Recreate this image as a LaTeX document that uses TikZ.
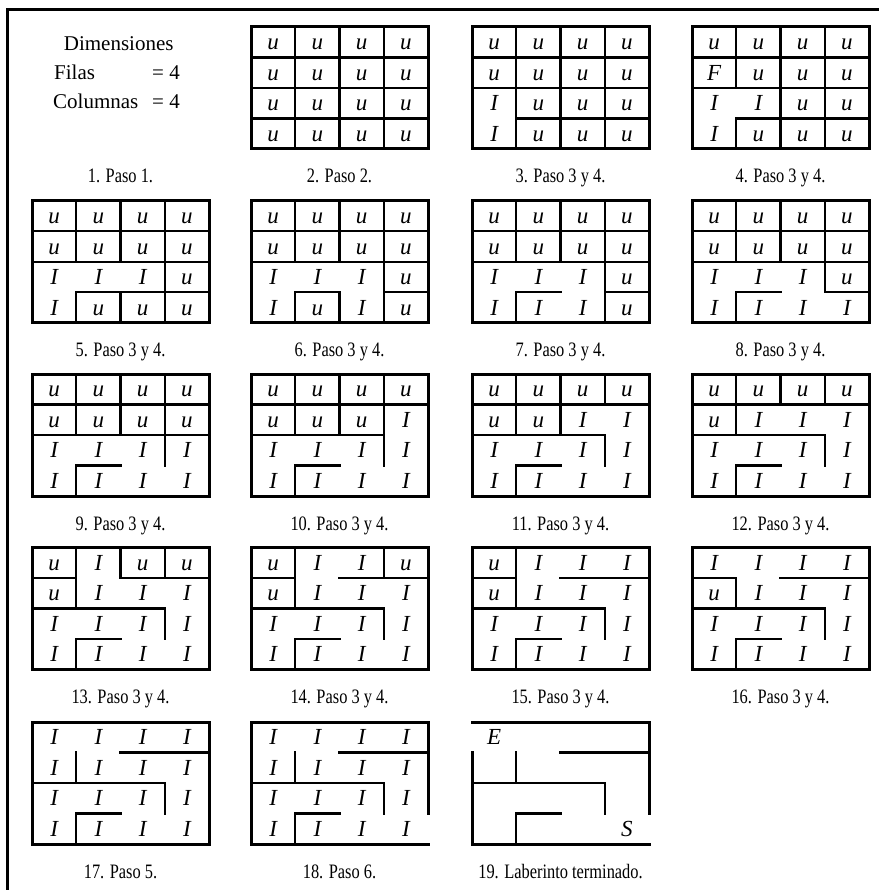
\documentclass[tikz,border=0pt]{standalone}
\usepackage{fontspec}
\setmainfont{Liberation Serif}
\newfontfamily\capfont[FakeStretch=0.8]{Liberation Serif}
\usepackage{tikz}
\tikzset{
    % Maze styles
    mazeframe/.style={
        draw=black,
        line width=3pt,
        line cap=rect
    },
    mazewall/.style={
        draw=black,
        line width=2.2pt,
        line cap=rect
    },
    mazecell/.style={
        anchor=base,
        inner sep=0pt,
        font=\fontsize{23}{27}\selectfont\itshape
    },
    % Text styles
    steplabel/.style={
        anchor=base,
        inner sep=0pt,
        font=\capfont\fontsize{20.5}{24}\selectfont
    },
    info/.style={
        inner sep=0pt,
        font=\fontsize{21}{25}\selectfont
    }
}
% one row of letters of a maze
\newcommand{\cellrow}[3]{%
    \foreach \l [count=\c from 0] in {#3}{
        \node[mazecell] (#1r#2c\c) at (\c+0.5,#2+0.75) {\l};
    }}

\begin{document}
\begin{tikzpicture}[x=1pt, y=-1pt]
    \useasboundingbox (0,0) rectangle (879,890);

    % Page border
    \draw[line width=3.5pt] (7.7,890) -- (7.7,9.5) -- (879,9.5);

    % 1. Dimensions
    \node[info, anchor=base] (dim) at (118.7,50.7) {Dimensiones};
    \node[info, anchor=base west] (filas) at (54,79.3) {Filas};
    \node[info, anchor=base east] (filasval) at (180,79.3) {= 4};
    \node[info, anchor=base west] (cols) at (53,108.3) {Columnas};
    \node[info, anchor=base east] (colsval) at (180,108.3) {= 4};

    % 2. All cells unvisited
    \begin{scope}[shift={(251,27)}, x=44.25pt, y=-30.5pt]
        \cellrow{m2}{0}{u,u,u,u}
        \cellrow{m2}{1}{u,u,u,u}
        \cellrow{m2}{2}{u,u,u,u}
        \cellrow{m2}{3}{u,u,u,u}
        \draw[mazewall] (1,0)--(1,4) (2,0)--(2,4) (3,0)--(3,4)
            (0,1)--(4,1) (0,2)--(4,2) (0,3)--(4,3);
        \draw[mazeframe] (0,0) rectangle (4,4);
    \end{scope}

    % 3.
    \begin{scope}[shift={(472,27)}, x=44.25pt, y=-30.5pt]
        \cellrow{m3}{0}{u,u,u,u}
        \cellrow{m3}{1}{u,u,u,u}
        \cellrow{m3}{2}{I,u,u,u}
        \cellrow{m3}{3}{I,u,u,u}
        \draw[mazewall] (1,0)--(1,4) (2,0)--(2,4) (3,0)--(3,4)
            (0,1)--(4,1) (0,2)--(4,2) (1,3)--(4,3);
        \draw[mazeframe] (0,0) rectangle (4,4);
    \end{scope}

    % 4.
    \begin{scope}[shift={(692,27)}, x=44.25pt, y=-30.5pt]
        \cellrow{m4}{0}{u,u,u,u}
        \cellrow{m4}{1}{F,u,u,u}
        \cellrow{m4}{2}{I,I,u,u}
        \cellrow{m4}{3}{I,u,u,u}
        \draw[mazewall] (1,0)--(1,2) (1,3)--(1,4) (2,0)--(2,4) (3,0)--(3,4)
            (0,1)--(4,1) (0,2)--(4,2) (1,3)--(4,3);
        \draw[mazeframe] (0,0) rectangle (4,4);
    \end{scope}

    % 5.
    \begin{scope}[shift={(32,200.7)}, x=44.25pt, y=-30.5pt]
        \cellrow{m5}{0}{u,u,u,u}
        \cellrow{m5}{1}{u,u,u,u}
        \cellrow{m5}{2}{I,I,I,u}
        \cellrow{m5}{3}{I,u,u,u}
        \draw[mazewall] (1,0)--(1,2) (1,3)--(1,4) (2,0)--(2,2) (2,3)--(2,4) (3,0)--(3,4)
            (0,1)--(4,1) (0,2)--(4,2) (1,3)--(4,3);
        \draw[mazeframe] (0,0) rectangle (4,4);
    \end{scope}

    % 6.
    \begin{scope}[shift={(251,200.7)}, x=44.25pt, y=-30.5pt]
        \cellrow{m6}{0}{u,u,u,u}
        \cellrow{m6}{1}{u,u,u,u}
        \cellrow{m6}{2}{I,I,I,u}
        \cellrow{m6}{3}{I,u,I,u}
        \draw[mazewall] (1,0)--(1,2) (1,3)--(1,4) (2,0)--(2,2) (2,3)--(2,4) (3,0)--(3,4)
            (0,1)--(4,1) (0,2)--(4,2) (1,3)--(2,3) (3,3)--(4,3);
        \draw[mazeframe] (0,0) rectangle (4,4);
    \end{scope}

    % 7.
    \begin{scope}[shift={(472,200.7)}, x=44.25pt, y=-30.5pt]
        \cellrow{m7}{0}{u,u,u,u}
        \cellrow{m7}{1}{u,u,u,u}
        \cellrow{m7}{2}{I,I,I,u}
        \cellrow{m7}{3}{I,I,I,u}
        \draw[mazewall] (1,0)--(1,2) (1,3)--(1,4) (2,0)--(2,2) (3,0)--(3,4)
            (0,1)--(4,1) (0,2)--(4,2) (1,3)--(2,3) (3,3)--(4,3);
        \draw[mazeframe] (0,0) rectangle (4,4);
    \end{scope}

    % 8.
    \begin{scope}[shift={(692,200.7)}, x=44.25pt, y=-30.5pt]
        \cellrow{m8}{0}{u,u,u,u}
        \cellrow{m8}{1}{u,u,u,u}
        \cellrow{m8}{2}{I,I,I,u}
        \cellrow{m8}{3}{I,I,I,I}
        \draw[mazewall] (1,0)--(1,2) (1,3)--(1,4) (2,0)--(2,2) (3,0)--(3,3)
            (0,1)--(4,1) (0,2)--(4,2) (1,3)--(2,3) (3,3)--(4,3);
        \draw[mazeframe] (0,0) rectangle (4,4);
    \end{scope}

    % 9.
    \begin{scope}[shift={(32,374)}, x=44.25pt, y=-30.5pt]
        \cellrow{m9}{0}{u,u,u,u}
        \cellrow{m9}{1}{u,u,u,u}
        \cellrow{m9}{2}{I,I,I,I}
        \cellrow{m9}{3}{I,I,I,I}
        \draw[mazewall] (1,0)--(1,2) (1,3)--(1,4) (2,0)--(2,2) (3,0)--(3,3)
            (0,1)--(4,1) (0,2)--(4,2) (1,3)--(2,3);
        \draw[mazeframe] (0,0) rectangle (4,4);
    \end{scope}

    % 10.
    \begin{scope}[shift={(251,374)}, x=44.25pt, y=-30.5pt]
        \cellrow{m10}{0}{u,u,u,u}
        \cellrow{m10}{1}{u,u,u,I}
        \cellrow{m10}{2}{I,I,I,I}
        \cellrow{m10}{3}{I,I,I,I}
        \draw[mazewall] (1,0)--(1,2) (1,3)--(1,4) (2,0)--(2,2) (3,0)--(3,3)
            (0,1)--(4,1) (0,2)--(3,2) (1,3)--(2,3);
        \draw[mazeframe] (0,0) rectangle (4,4);
    \end{scope}

    % 11.
    \begin{scope}[shift={(472,374)}, x=44.25pt, y=-30.5pt]
        \cellrow{m11}{0}{u,u,u,u}
        \cellrow{m11}{1}{u,u,I,I}
        \cellrow{m11}{2}{I,I,I,I}
        \cellrow{m11}{3}{I,I,I,I}
        \draw[mazewall] (1,0)--(1,2) (1,3)--(1,4) (2,0)--(2,2) (3,0)--(3,1) (3,2)--(3,3)
            (0,1)--(4,1) (0,2)--(3,2) (1,3)--(2,3);
        \draw[mazeframe] (0,0) rectangle (4,4);
    \end{scope}

    % 12.
    \begin{scope}[shift={(692,374)}, x=44.25pt, y=-30.5pt]
        \cellrow{m12}{0}{u,u,u,u}
        \cellrow{m12}{1}{u,I,I,I}
        \cellrow{m12}{2}{I,I,I,I}
        \cellrow{m12}{3}{I,I,I,I}
        \draw[mazewall] (1,0)--(1,2) (1,3)--(1,4) (2,0)--(2,1) (3,0)--(3,1) (3,2)--(3,3)
            (0,1)--(4,1) (0,2)--(3,2) (1,3)--(2,3);
        \draw[mazeframe] (0,0) rectangle (4,4);
    \end{scope}

    % 13.
    \begin{scope}[shift={(32,547.5)}, x=44.25pt, y=-30.5pt]
        \cellrow{m13}{0}{u,I,u,u}
        \cellrow{m13}{1}{u,I,I,I}
        \cellrow{m13}{2}{I,I,I,I}
        \cellrow{m13}{3}{I,I,I,I}
        \draw[mazewall] (1,0)--(1,2) (1,3)--(1,4) (2,0)--(2,1) (3,0)--(3,1) (3,2)--(3,3)
            (0,1)--(1,1) (2,1)--(4,1) (0,2)--(3,2) (1,3)--(2,3);
        \draw[mazeframe] (0,0) rectangle (4,4);
    \end{scope}

    % 14.
    \begin{scope}[shift={(251,547.5)}, x=44.25pt, y=-30.5pt]
        \cellrow{m14}{0}{u,I,I,u}
        \cellrow{m14}{1}{u,I,I,I}
        \cellrow{m14}{2}{I,I,I,I}
        \cellrow{m14}{3}{I,I,I,I}
        \draw[mazewall] (1,0)--(1,2) (1,3)--(1,4) (3,0)--(3,1) (3,2)--(3,3)
            (0,1)--(1,1) (2,1)--(4,1) (0,2)--(3,2) (1,3)--(2,3);
        \draw[mazeframe] (0,0) rectangle (4,4);
    \end{scope}

    % 15.
    \begin{scope}[shift={(472,547.5)}, x=44.25pt, y=-30.5pt]
        \cellrow{m15}{0}{u,I,I,I}
        \cellrow{m15}{1}{u,I,I,I}
        \cellrow{m15}{2}{I,I,I,I}
        \cellrow{m15}{3}{I,I,I,I}
        \draw[mazewall] (1,0)--(1,2) (1,3)--(1,4) (3,2)--(3,3)
            (0,1)--(1,1) (2,1)--(4,1) (0,2)--(3,2) (1,3)--(2,3);
        \draw[mazeframe] (0,0) rectangle (4,4);
    \end{scope}

    % 16.
    \begin{scope}[shift={(692,547.5)}, x=44.25pt, y=-30.5pt]
        \cellrow{m16}{0}{I,I,I,I}
        \cellrow{m16}{1}{u,I,I,I}
        \cellrow{m16}{2}{I,I,I,I}
        \cellrow{m16}{3}{I,I,I,I}
        \draw[mazewall] (1,1)--(1,2) (1,3)--(1,4) (3,2)--(3,3)
            (0,1)--(1,1) (2,1)--(4,1) (0,2)--(3,2) (1,3)--(2,3);
        \draw[mazeframe] (0,0) rectangle (4,4);
    \end{scope}

    % 17. Step 5
    \begin{scope}[shift={(32,722)}, x=44.25pt, y=-30.5pt]
        \cellrow{m17}{0}{I,I,I,I}
        \cellrow{m17}{1}{I,I,I,I}
        \cellrow{m17}{2}{I,I,I,I}
        \cellrow{m17}{3}{I,I,I,I}
        \draw[mazewall] (1,1)--(1,2) (1,3)--(1,4) (3,2)--(3,3)
            (2,1)--(4,1) (0,2)--(3,2) (1,3)--(2,3);
        \draw[mazeframe] (0,0) rectangle (4,4);
    \end{scope}

    % 18. Step 6 (exit open)
    \begin{scope}[shift={(251,722)}, x=44.25pt, y=-30.5pt]
        \cellrow{m18}{0}{I,I,I,I}
        \cellrow{m18}{1}{I,I,I,I}
        \cellrow{m18}{2}{I,I,I,I}
        \cellrow{m18}{3}{I,I,I,I}
        \draw[mazewall] (1,1)--(1,2) (1,3)--(1,4) (3,2)--(3,3)
            (2,1)--(4,1) (0,2)--(3,2) (1,3)--(2,3);
        \draw[mazeframe] (4,3) -- (4,0) -- (0,0) -- (0,4) -- (4,4);
    \end{scope}

    % 19. Finished maze
    \begin{scope}[shift={(472,722)}, x=44.25pt, y=-30.5pt]
        \node[mazecell] (m19r0c0) at (0.5,0.75) {E};
        \node[mazecell] (m19r3c3) at (3.5,3.75) {S};
        \draw[mazewall] (1,1)--(1,2) (1,3)--(1,4) (3,2)--(3,3)
            (2,1)--(4,1) (0,2)--(3,2) (1,3)--(2,3);
        \draw[mazeframe] (4,3) -- (4,0) -- (0,0);
        \draw[mazeframe] (0,1) -- (0,4) -- (4,4);
    \end{scope}

    % Labels
    \node[steplabel] (cap1) at (120.5,183) {1. Paso 1.};
    \node[steplabel] (cap2) at (339.5,183) {2. Paso 2.};
    \node[steplabel] (cap3) at (560.5,183) {3. Paso 3 y 4.};
    \node[steplabel] (cap4) at (780.5,183) {4. Paso 3 y 4.};
    \node[steplabel] (cap5) at (120.5,356.7) {5. Paso 3 y 4.};
    \node[steplabel] (cap6) at (339.5,356.7) {6. Paso 3 y 4.};
    \node[steplabel] (cap7) at (560.5,356.7) {7. Paso 3 y 4.};
    \node[steplabel] (cap8) at (780.5,356.7) {8. Paso 3 y 4.};
    \node[steplabel] (cap9) at (120.5,530) {9. Paso 3 y 4.};
    \node[steplabel] (cap10) at (339.5,530) {10. Paso 3 y 4.};
    \node[steplabel] (cap11) at (560.5,530) {11. Paso 3 y 4.};
    \node[steplabel] (cap12) at (780.5,530) {12. Paso 3 y 4.};
    \node[steplabel] (cap13) at (120.5,703.5) {13. Paso 3 y 4.};
    \node[steplabel] (cap14) at (339.5,703.5) {14. Paso 3 y 4.};
    \node[steplabel] (cap15) at (560.5,703.5) {15. Paso 3 y 4.};
    \node[steplabel] (cap16) at (780.5,703.5) {16. Paso 3 y 4.};
    \node[steplabel] (cap17) at (120.5,878) {17. Paso 5.};
    \node[steplabel] (cap18) at (339.5,878) {18. Paso 6.};
    \node[steplabel] (cap19) at (560.5,878) {19. Laberinto terminado.};
\end{tikzpicture}
\end{document}
